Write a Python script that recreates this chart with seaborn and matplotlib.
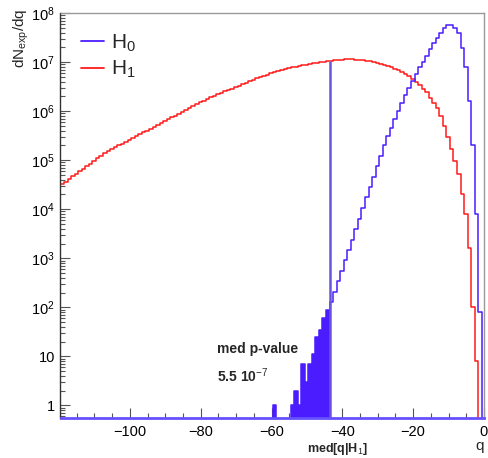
import numpy as np
import pandas as pd
import matplotlib
matplotlib.use("Agg")
import matplotlib.pyplot as plt
import seaborn as sns
from matplotlib.lines import Line2D
from matplotlib.ticker import LogLocator, MultipleLocator, FixedFormatter, NullFormatter
import matplotlib.transforms as mtransforms

# 1-unit bins, edges from -119.6 to 0.4 (centres -119.1 ... -0.1)
BIN_LO = -119.6
N_BINS = 120

# H1: log10(dN/dq) per bin, left to right (None = empty bin)
h1_log = [
    4.51, 4.56, 4.62, 4.67, 4.72, 4.78, 4.83, 4.88, 4.93, 4.99, 5.04, 5.09, 5.14,
    5.18, 5.22, 5.26, 5.30, 5.33, 5.37, 5.41, 5.45, 5.49, 5.53, 5.57, 5.60, 5.64, 5.68,
    5.72, 5.76, 5.80, 5.84, 5.88, 5.91, 5.95, 5.99, 6.03, 6.07, 6.10, 6.14, 6.18, 6.21,
    6.24, 6.28, 6.31, 6.34, 6.37, 6.40, 6.43, 6.46, 6.49, 6.52, 6.55, 6.58, 6.61, 6.64,
    6.67, 6.69, 6.72, 6.74, 6.77, 6.79, 6.81, 6.83, 6.85, 6.87,
    6.89, 6.90, 6.92, 6.93, 6.95, 6.96, 6.98, 6.99, 7.00, 7.01, 7.02, 7.03,
    7.04, 7.05, 7.05, 7.06, 7.06, 7.06, 7.05, 7.05, 7.04, 7.03, 7.02, 7.01, 6.99, 6.97, 6.95, 6.92,
    6.89, 6.86, 6.83, 6.79, 6.75, 6.71, 6.66,
    6.60, 6.53, 6.46, 6.38,
    6.26, 6.17, 6.06, 5.90, 5.70, 5.47, 5.23, 4.98, 4.72, 4.32, 3.90, 3.20, 2.00, 0.90, None, None,
]

# H0 tail below med[q|H1]: counts per bin, centres -59.1 ... -44.1
h0_tail = [1, 0, 0, 0, 0, 1, 2, 1, 7, 3, 7, 11, 25, 35, 60, 90]

# H0 above med[q|H1]: log10(dN/dq), centres -43.1 ... -0.1
h0_log = [
    2.10, 2.32, 2.53, 2.74, 2.96, 3.17, 3.38, 3.60, 3.81, 4.02, 4.24, 4.45, 4.66, 4.88,
    5.09, 5.30, 5.49, 5.66, 5.84, 6.01, 6.17, 6.33, 6.48, 6.62, 6.76, 6.89, 7.01, 7.13,
    7.27, 7.38, 7.49, 7.59, 7.69, 7.75, 7.75, 7.70, 7.59, 7.28, 6.90, 6.20, 5.30, 3.90,
    1.90, None,
]

med_q = -43.6
med_top = 1.07e7
p_value_text = r"5.5 10$^{-7}$"

edges = BIN_LO + np.arange(N_BINS + 1)
centres = edges[:-1] + 0.5

h1 = np.array([0.0 if v is None else 10 ** v for v in h1_log])
h0_upper = [0.0 if v is None else 10 ** v for v in h0_log]
n_empty = N_BINS - len(h0_tail) - len(h0_upper)
h0 = np.array([0.0] * n_empty + [float(c) for c in h0_tail] + h0_upper)

df = pd.DataFrame({"q": centres, "H0": h0, "H1": h1})
tail = df.iloc[n_empty:n_empty + len(h0_tail)]
tail_range = (edges[n_empty], edges[n_empty + len(h0_tail)])

sns.set_style("white")
plt.rcParams["font.family"] = ["Liberation Sans", "DejaVu Sans"]
plt.rcParams["mathtext.fontset"] = "custom"
plt.rcParams["mathtext.rm"] = "Liberation Sans"
plt.rcParams["mathtext.it"] = "Liberation Sans:italic"
plt.rcParams["mathtext.bf"] = "Liberation Sans:bold"

blue = "#4a1cff"
red = "#ff1a1a"

fig = plt.figure(figsize=(4.89, 4.58), dpi=100)
ax = fig.add_axes([60.5 / 489, 40 / 458, (484.3 - 60.5) / 489, 405 / 458])

# filled tail of H0 below the median of H1
sns.histplot(data=tail, x="q", weights="H0", binwidth=1, binrange=tail_range,
             element="step", fill=True, color=blue, alpha=1.0, linewidth=0, ax=ax)
sns.histplot(data=df, x="q", weights="H1", binwidth=1, binrange=(edges[0], edges[-1]),
             element="step", fill=False, color=red, linewidth=1.1, ax=ax)
sns.histplot(data=df, x="q", weights="H0", binwidth=1, binrange=(edges[0], edges[-1]),
             element="step", fill=False, color=blue, linewidth=1.1, ax=ax)
ax.set_yscale("log")

ylo, yhi = 0.556, 1e8
ax.vlines(med_q, ylo, med_top, color="#6655dd", linewidth=1.8)

ax.set_xlim(-119.6, 0.1)
ax.set_ylim(ylo, yhi)

# ticks, ROOT style
ax.xaxis.set_major_locator(MultipleLocator(20))
ax.xaxis.set_minor_locator(MultipleLocator(5))
ax.set_yticks([10.0 ** k for k in range(0, 9)])
ax.yaxis.set_major_formatter(FixedFormatter(["1", "10"] + [r"10$^{%d}$" % k for k in range(2, 9)]))
ax.yaxis.set_minor_locator(LogLocator(base=10, subs=np.arange(2, 10), numticks=20))
ax.yaxis.set_minor_formatter(NullFormatter())
ax.tick_params(which="both", direction="in", bottom=True, left=True, top=False, right=False,
               colors="#555555", labelcolor="black", labelsize=10.5)
ax.tick_params(which="major", length=7.2, width=0.8)
ax.tick_params(which="minor", length=3.6, width=0.8)
ax.tick_params(axis="x", pad=5)
ax.tick_params(axis="y", pad=4)

for side in ["top", "right"]:
    ax.spines[side].set_color("#999999")
    ax.spines[side].set_linewidth(1.0)
ax.spines["left"].set_color("#333333")
ax.spines["left"].set_linewidth(1.0)
ax.spines["bottom"].set_color("#6650ff")
ax.spines["bottom"].set_linewidth(2.0)

ax.set_xlabel("q", loc="right", fontsize=11, labelpad=0)
ax.set_ylabel(r"dN$_{\mathrm{exp}}$/dq", loc="top", fontsize=11)
ax.yaxis.set_label_coords(-0.07, 1.01)

handles = [Line2D([], [], color=blue, lw=1.3), Line2D([], [], color=red, lw=1.3)]
ax.legend(handles, [r"H$_0$", r"H$_1$"], loc="upper left", bbox_to_anchor=(0.02, 0.983),
          frameon=False, fontsize=15, handlelength=1.1, handletextpad=0.3,
          labelspacing=0.25, borderaxespad=0.2)

ax.text(-75.4, 14, "med p-value", fontsize=10, fontweight="bold", ha="left", va="center")
ax.text(-75.4, 4.0, p_value_text, fontsize=10, fontweight="bold", ha="left", va="center")

trans = mtransforms.blended_transform_factory(ax.transData, ax.transAxes)
ax.text(-41.3, -0.077, r"med[q|H$_1$]", transform=trans, fontsize=9, fontweight="bold",
        ha="center", va="center")

fig.savefig("out.png", dpi=100)
